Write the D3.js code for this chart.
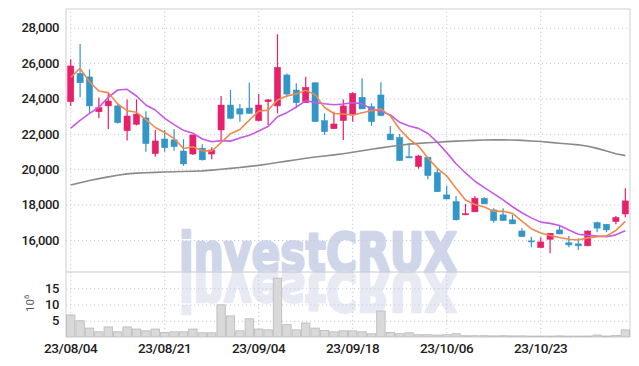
<!DOCTYPE html>
<html>
<head>
<meta charset="utf-8">
<script src="https://cdn.jsdelivr.net/npm/d3@7/dist/d3.min.js"></script>
<style>
  body { margin: 0; background: #fff; }
  text { font-family: Roboto, "DejaVu Sans", sans-serif; }
</style>
</head>
<body>
<div id="chart"></div>
<script>
var dates = ['23/08/04','23/08/07','23/08/08','23/08/09','23/08/10','23/08/11','23/08/14','23/08/16','23/08/17','23/08/18',
  '23/08/21','23/08/22','23/08/23','23/08/24','23/08/25','23/08/28','23/08/29','23/08/30','23/08/31','23/09/01',
  '23/09/04','23/09/05','23/09/06','23/09/07','23/09/08','23/09/11','23/09/12','23/09/13','23/09/14','23/09/15',
  '23/09/18','23/09/19','23/09/20','23/09/21','23/09/22','23/09/25','23/09/26','23/09/27','23/10/04','23/10/05',
  '23/10/06','23/10/10','23/10/11','23/10/12','23/10/13','23/10/16','23/10/17','23/10/18','23/10/19','23/10/20',
  '23/10/23','23/10/24','23/10/25','23/10/26','23/10/27','23/10/30','23/10/31','23/11/01','23/11/02','23/11/03'];

var opens = [23820,25420,25220,23250,23580,23580,22180,22540,22900,20880, 21710,21660,21030,20860,21190,20860,22220,23630,23420,23460,
  22750,23820,23580,25330,24480,23760,24890,22750,22290,22750, 23120,24070,23540,24200,21990,21790,20710,20150,20680,19810,
  18550,18170,17420,17590,18360,17700,17420,17140,16510,15950, 15570,16040,16570,15840,15780,15670,16980,16890,17040,17470];
var highs = [26220,27080,25650,24050,24290,23650,23950,23950,23280,22220, 22220,22260,21700,21950,21410,21240,24140,24480,23690,24890,
  24250,23970,27630,25420,24860,25230,24910,23160,23250,23950, 24350,25140,23730,24920,22450,21990,21470,20810,20710,20050,
  19070,18490,18040,18490,18420,17800,17800,17420,16670,16190, 16150,16390,16850,16230,16100,16530,17040,16900,17360,18930];
var lows = [23580,24070,23160,22880,22260,22580,21620,22480,20990,20710, 20990,21050,20190,20800,20490,20570,21660,22830,22690,23150,
  22700,22500,23160,24070,23450,23740,22680,21940,22290,21660, 22690,23400,22450,23000,21650,20470,20640,20030,19440,18720,
  18300,17100,17400,17580,18030,16980,17090,16900,16180,15590, 15560,15250,16330,15590,15440,15650,16440,16440,16890,17290];
var closes = [25840,24890,23580,23480,23860,22630,23010,23120,21450,21600, 21220,21280,20300,21940,20530,21090,23630,22880,23120,23160,
  23630,23920,25760,24250,23760,24630,22690,22120,22560,23580, 24290,23410,22690,23030,21660,20490,20640,20750,19640,18730,
  18320,17140,17490,18360,18040,17100,17100,16910,16190,15890, 15890,16380,16340,15720,15670,16510,16670,16570,17270,18210];

// volume in millions
var volumes = [6.8,5.0,2.75,1.6,3.1,1.6,3.1,2.45,1.9,2.45, 1.4,1.6,1.6,2.45,1.3,1.3,9.9,6.5,1.9,5.6,
  2.45,2.2,18.1,3.8,2.2,4.3,2.75,2.0,1.6,1.9, 1.9,1.6,1.0,8.0,1.4,1.0,1.3,0.7,0.7,0.6,
  0.7,1.0,0.4,0.4,0.4,0.35,0.4,0.35,0.35,0.3, 0.3,0.3,0.35,0.3,0.3,0.3,0.6,0.3,0.5,2.2];

var ma5 = [25200,25700,24950,24420,24330,23690,23310,23220,22810,22360, 22080,21730,21170,21270,21050,21030,21500,22010,22250,22780,
  23280,23340,23920,24140,24260,24460,24220,23490,23150,23120, 23050,23190,23310,23400,23020,22260,21700,21310,20640,20050,
  19620,18920,18260,18010,17870,17630,17620,17500,17070,16640, 16400,16250,16140,16040,16000,16120,16180,16230,16540,17050];
var ma10 = [22320,22760,23160,23500,24070,24480,24520,24140,23630,23350, 22880,22520,22200,22040,21710,21550,21620,21590,21760,21920,
  22160,22420,22970,23200,23520,23870,23780,23700,23650,23690, 23760,23710,23400,23280,23070,22650,22450,22310,22020,21530,
  20940,20310,19790,19320,18960,18620,18270,17880,17540,17250, 17010,16940,16820,16560,16320,16260,16220,16180,16290,16520];
var maLong = [19110,19240,19360,19470,19570,19660,19740,19780,19800,19820, 19840,19860,19870,19890,19910,19950,20000,20050,20100,20160,
  20220,20300,20380,20460,20540,20620,20690,20750,20810,20880, 20960,21050,21130,21210,21290,21360,21420,21460,21500,21530,
  21560,21590,21610,21630,21650,21660,21660,21650,21630,21600, 21570,21520,21470,21430,21380,21300,21180,21030,20880,20770];

var priceTicks = [16000, 18000, 20000, 22000, 24000, 26000, 28000];
var volumeTicks = [5, 10, 15];
var dateTicks = ['23/08/04', '23/08/21', '23/09/04', '23/09/18', '23/10/06', '23/10/23'];

var width = 639, height = 366;
var plotLeft = 66, plotRight = 630, plotTop = 9, plotMid = 272, plotBottom = 337;
var upColor = '#e6206a', downColor = '#3396c8';

var svg = d3.select('#chart').append('svg')
  .attr('width', width)
  .attr('height', height);

var x = d3.scaleBand().domain(dates).range([plotLeft, plotRight]);
var y = d3.scaleLinear().domain([14190, 29060]).range([plotMid, plotTop]);
var yv = d3.scaleLinear().domain([0, 20]).range([plotBottom, plotMid]);
function cx(d) { return x(d) + x.bandwidth() / 2; }

// watermark with reflection
var mark = svg.append('g').attr('class', 'watermark');
[['#d0d6ea', ''], ['#e7e9f3', 'translate(0,' + (2 * plotMid) + ') scale(1,-1)']].forEach(function(m) {
  mark.append('text')
    .attr('x', 179).attr('y', plotMid - 1)
    .attr('transform', m[1] || null)
    .attr('textLength', 278).attr('lengthAdjust', 'spacingAndGlyphs')
    .style('font-family', '"DejaVu Sans", sans-serif')
    .style('font-weight', 'bold').style('font-size', '53px')
    .style('fill', m[0])
    .style('stroke', m[0]).style('stroke-width', 2.6).style('stroke-linejoin', 'round')
    .text('investCRUX');
});

// grids + axes
function styleAxis(g) {
  g.select('.domain').remove();
  g.selectAll('.tick line')
    .attr('stroke', '#c6c9de')
    .attr('stroke-dasharray', '1.2,2.8');
  g.selectAll('.tick text')
    .style('font-size', '13px')
    .style('font-weight', 500)
    .style('letter-spacing', '-0.4px')
    .attr('fill', '#222');
}

svg.append('g')
  .attr('transform', 'translate(' + plotLeft + ',0)')
  .call(d3.axisLeft(y).tickValues(priceTicks).tickSize(-(plotRight - plotLeft)).tickPadding(7).tickFormat(d3.format(',')))
  .call(styleAxis);

svg.append('g')
  .attr('transform', 'translate(' + plotLeft + ',0)')
  .call(d3.axisLeft(yv).tickValues(volumeTicks).tickSize(-(plotRight - plotLeft)).tickPadding(7))
  .call(styleAxis);

var xAxis = svg.append('g')
  .attr('transform', 'translate(0,' + plotBottom + ')')
  .call(d3.axisBottom(x).tickValues(dateTicks).tickSize(-(plotBottom - plotTop)).tickPadding(6))
  .call(styleAxis);
xAxis.selectAll('.tick text').style('font-size', '13.5px');

// frame
svg.append('line').attr('x1', plotLeft).attr('x2', plotRight).attr('y1', plotMid).attr('y2', plotMid)
  .attr('stroke', '#c8c8c8');
svg.append('path')
  .attr('d', 'M' + plotLeft + ',' + plotBottom + 'V' + plotTop + 'H' + plotRight + 'V' + plotBottom)
  .attr('fill', 'none').attr('stroke', '#cfcfd6');

// volume bars
svg.selectAll('.vol')
  .data(dates)
 .enter().append('rect')
  .attr('class', 'vol')
  .attr('x', function(d) { return x(d) + 0.5; })
  .attr('width', x.bandwidth() - 1)
  .attr('y', function(d, i) { return yv(volumes[i]); })
  .attr('height', function(d, i) { return plotBottom - yv(volumes[i]); })
  .attr('fill', '#d9d9d9')
  .attr('stroke', '#b9b9b9')
  .attr('stroke-width', 0.8);

// candles
var candle = svg.selectAll('.candle')
  .data(dates)
 .enter().append('g')
  .attr('class', 'candle')
  .style('fill', function(d, i) { return closes[i] >= opens[i] ? upColor : downColor; })
  .style('stroke', function(d, i) { return closes[i] >= opens[i] ? upColor : downColor; });

candle.append('line')
  .attr('x1', cx).attr('x2', cx)
  .attr('y1', function(d, i) { return y(highs[i]); })
  .attr('y2', function(d, i) { return y(lows[i]); })
  .attr('stroke-width', 1.2);

var bodyW = x.bandwidth() * 0.66;
candle.append('rect')
  .attr('x', function(d) { return cx(d) - bodyW / 2; })
  .attr('width', bodyW)
  .attr('y', function(d, i) { return y(Math.max(opens[i], closes[i])); })
  .attr('height', function(d, i) { return Math.max(1, Math.abs(y(opens[i]) - y(closes[i]))); })
  .attr('stroke-width', 0.5);

// moving averages
function drawLine(values, color) {
  var line = d3.line()
    .x(function(d, i) { return cx(dates[i]); })
    .y(function(d) { return y(d); });
  svg.append('path')
    .datum(values)
    .attr('d', line)
    .attr('fill', 'none')
    .attr('stroke', color)
    .attr('stroke-width', 1.6)
    .attr('stroke-linejoin', 'round');
}
drawLine(maLong, '#8a8a8a');
drawLine(ma10, '#c858e8');
drawLine(ma5, '#ef8a4c');

// volume unit label
var unit = svg.append('text')
  .attr('transform', 'translate(34,312) rotate(-90)')
  .style('font-size', '11.5px')
  .attr('fill', '#555');
unit.append('tspan').text('10');
unit.append('tspan').attr('dy', -5).style('font-size', '8px').text('6');
</script>
</body>
</html>
